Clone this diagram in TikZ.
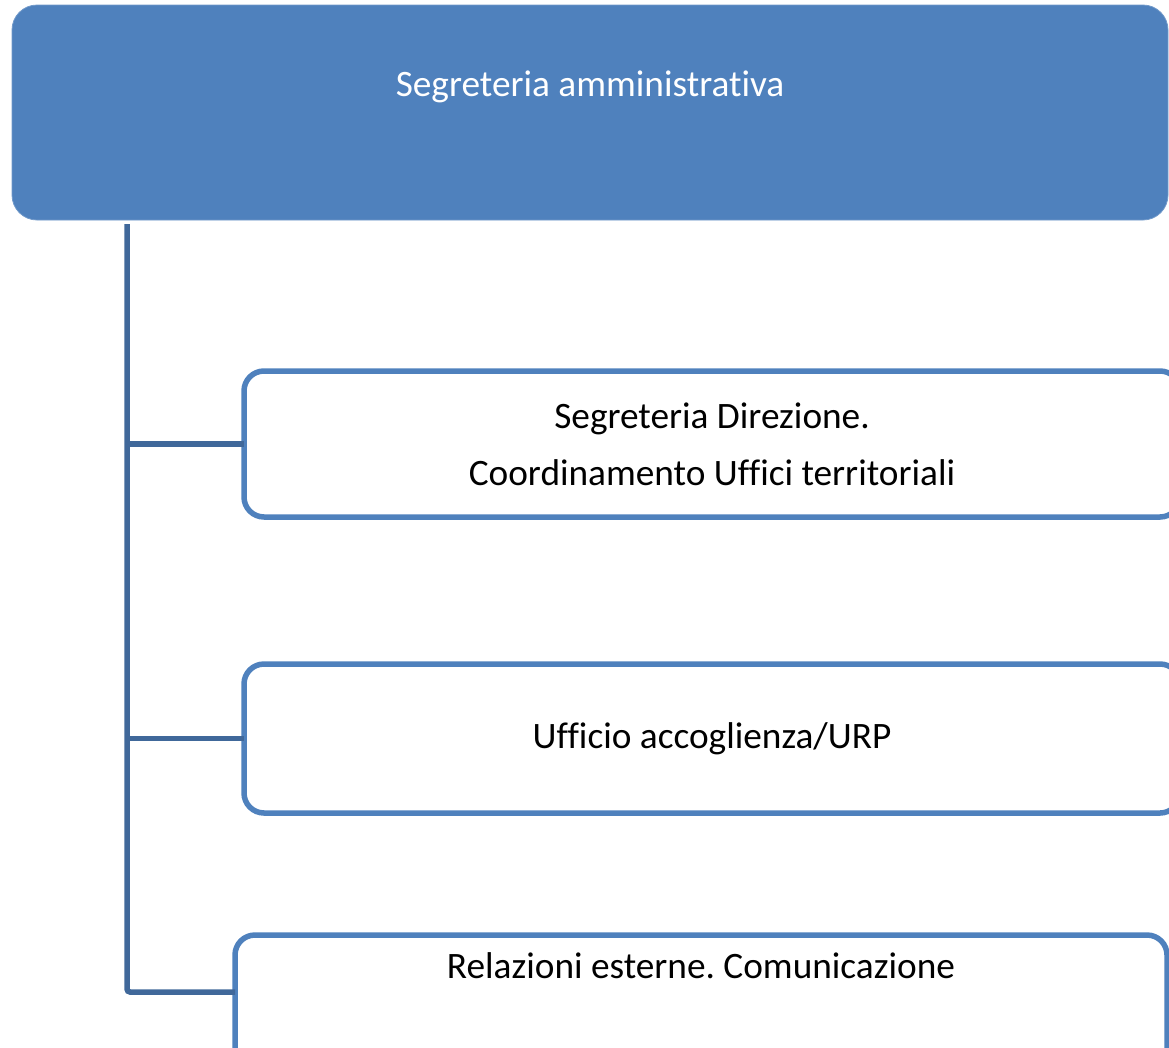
\documentclass[tikz,border=0pt]{standalone}
\usepackage{fontspec}
\setmainfont{Carlito}[RawFeature={-liga;-clig;-dlig}]
\usetikzlibrary{positioning}
\frenchspacing

\definecolor{boxblue}{HTML}{4F81BD}
\definecolor{lineblue}{HTML}{40689A}

\begin{document}
\begin{tikzpicture}[
        x=1pt, y=1pt,
        head/.style={
                rectangle,
                rounded corners=25pt,
                fill=boxblue,
                draw=boxblue!80!white,
                line width=0.8pt,
                text=white,
                inner sep=0pt,
                outer sep=0pt,
                minimum width=1156pt,
                font=\fontsize{37.3}{57}\selectfont,
                text height=91pt,
                text depth=124pt
            },
        office/.style={
                rectangle,
                rounded corners=20pt,
                draw=boxblue,
                line width=5.5pt,
                fill=white,
                inner sep=0pt,
                outer sep=0pt,
                align=center,
                font=\fontsize{37.3}{57}\selectfont
            },
        link/.style={
                draw=lineblue,
                line width=5.5pt,
                rounded corners=3pt
            }
    ]
    \useasboundingbox (0,0) rectangle (1169,-1047);

    \node[head, anchor=north west] (Admin) at (12,-5) {Segreteria amministrativa};
    \node[office, anchor=north west, minimum width=936pt, minimum height=146pt] (Direzione) at (244,-371)
        {Segreteria Direzione.\\Coordinamento Uffici territoriali};
    \node[office, minimum width=936pt, minimum height=149pt] (URP) [below=147pt of Direzione] {Ufficio accoglienza/URP};
    \node[office, anchor=north west, minimum width=932pt, text height=43pt, text depth=112pt] (Relazioni) at (235,-935)
        {Relazioni esterne. Comunicazione};

    \coordinate (trunk) at ([xshift=115pt, yshift=-4pt]Admin.south west);

    \draw[link] (trunk) |- ([yshift=-57pt]Relazioni.north west);
    \draw[link, rounded corners=0pt] (trunk |- Direzione.west) -- (Direzione.west);
    \draw[link, rounded corners=0pt] (trunk |- URP.west) -- (URP.west);
\end{tikzpicture}
\end{document}
